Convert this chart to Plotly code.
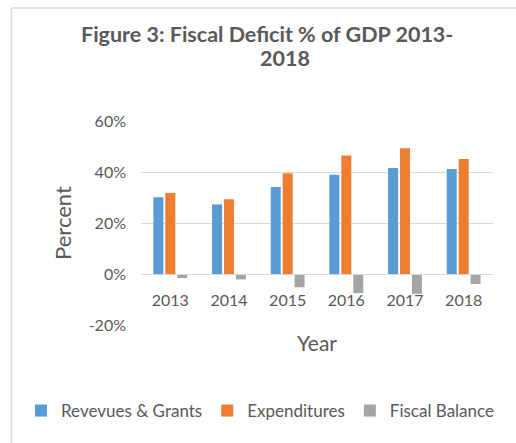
import plotly.graph_objects as go

# Fiscal indicators as a share of GDP (percent)
years = ["2013", "2014", "2015", "2016", "2017", "2018"]
revenues_grants = [30.1, 27.3, 34.1, 38.9, 41.6, 41.2]
expenditures = [31.8, 29.3, 39.5, 46.5, 49.3, 45.1]
fiscal_balance = [-1.6, -2.1, -5.2, -7.5, -7.8, -3.9]

series_names = ["Revevues & Grants", "Expenditures", "Fiscal Balance"]
series_colors = ["#5B9BD5", "#ED7D31", "#A5A5A5"]

y_tick_values = [-20, 0, 20, 40, 60]
y_tick_labels = ["-20%", "0%", "20%", "40%", "60%"]

W, H = 516, 443
L, R, T, B = 141, 23, 121, 118
PW, PH = W - L - R, H - T - B


def px(x):
    return (x - L) / PW


def py(y):
    return (H - B - y) / PH


FONT = "Lato"
TEXT = "#595959"
GRID = "#D9D9D9"

fig = go.Figure()
for name, vals, col in zip(series_names, [revenues_grants, expenditures, fiscal_balance], series_colors):
    fig.add_trace(go.Bar(x=years, y=vals, name=name, marker=dict(color=col, line=dict(width=0))))

fig.update_layout(
    width=W, height=H,
    margin=dict(l=L, r=R, t=T, b=B, autoexpand=False),
    paper_bgcolor="white", plot_bgcolor="white",
    font=dict(family=FONT, color=TEXT, size=15),
    barmode="group", bargap=0.39, bargroupgap=0.16,
    showlegend=True,
    legend=dict(orientation="h", x=px(21), y=py(411), xanchor="left", yanchor="middle",
                font=dict(size=17, color=TEXT), itemwidth=30, tracegroupgap=0,
                bgcolor="rgba(0,0,0,0)"),
    xaxis=dict(type="category", anchor="free", position=0.25, showline=True, linecolor=GRID,
               linewidth=1, ticks="", showgrid=False, tickfont=dict(size=16, color=TEXT),
               ticklabelstandoff=12,
               title=dict(text="Year", font=dict(size=21, color=TEXT), standoff=28)),
    yaxis=dict(range=[-20, 60], tickvals=y_tick_values, ticktext=y_tick_labels,
               showgrid=True, gridcolor=GRID,
               gridwidth=1, zeroline=False, showline=False, ticks="",
               tickfont=dict(size=16, color=TEXT), ticklabelstandoff=14,
               title=dict(text="Percent", font=dict(size=22, color=TEXT), standoff=10)),
)

# Two-line chart heading
fig.add_annotation(text="<b>Figure 3: Fiscal Deficit % of GDP 2013-</b>", x=px(267), y=py(34),
                   xref="paper", yref="paper", showarrow=False, font=dict(size=21.5, color=TEXT),
                   xanchor="center", yanchor="middle")
fig.add_annotation(text="<b>2018</b>", x=px(285), y=py(58),
                   xref="paper", yref="paper", showarrow=False, font=dict(size=21.5, color=TEXT),
                   xanchor="center", yanchor="middle")

# Chart-area frame (left and top edges)
fig.add_shape(type="line", xref="paper", yref="paper", x0=px(11.5), x1=px(11.5), y0=py(8), y1=py(443),
              line=dict(color=GRID, width=1.5))
fig.add_shape(type="line", xref="paper", yref="paper", x0=px(11.5), x1=px(516), y0=py(8), y1=py(8),
              line=dict(color=GRID, width=1.5))

fig.write_html("out.html")
